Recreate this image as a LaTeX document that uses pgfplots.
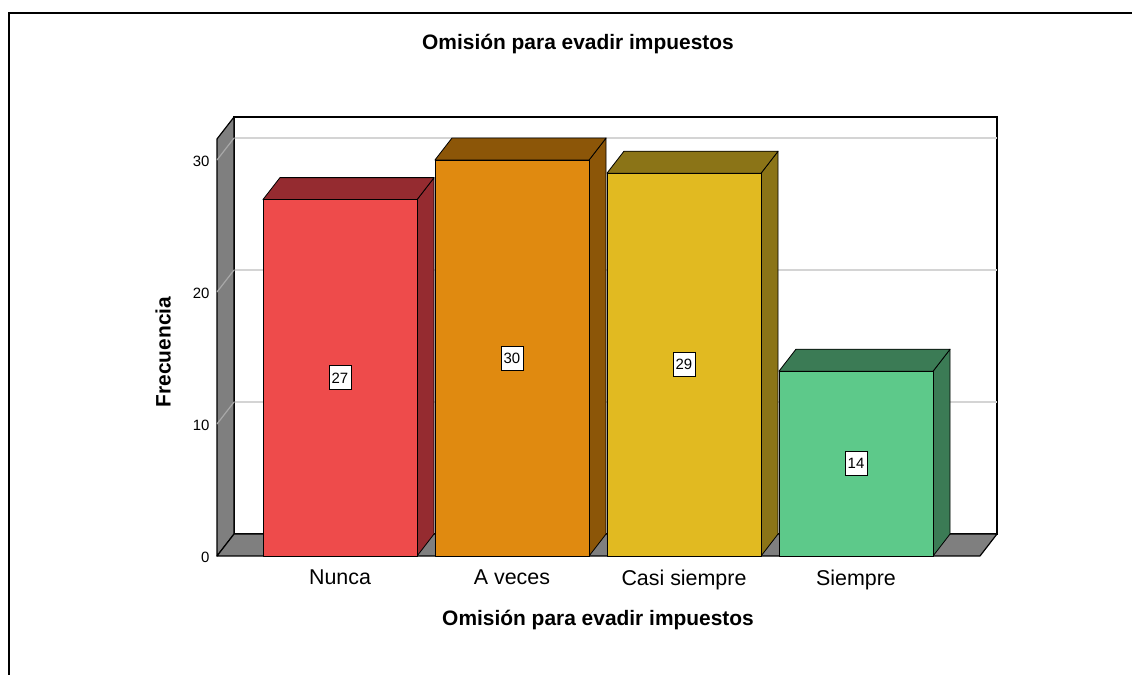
\documentclass[border=0pt]{standalone}
\usepackage{pgfplots}
\pgfplotsset{compat=1.18}
\usepackage{fontspec}
\setmainfont{Liberation Sans}

\definecolor{nuncaF}{HTML}{EE4B4B}
\definecolor{nuncaD}{HTML}{952B30}
\definecolor{avecesF}{HTML}{E08A10}
\definecolor{avecesD}{HTML}{8C5608}
\definecolor{casiF}{HTML}{E1BA21}
\definecolor{casiD}{HTML}{8B7417}
\definecolor{siempreF}{HTML}{5DC98A}
\definecolor{siempreD}{HTML}{3B7B55}
\definecolor{wallG}{HTML}{7F7F7F}
\definecolor{gridG}{HTML}{D4D4D4}
\definecolor{wallGrid}{HTML}{A8A8A8}

\begin{document}
\begin{tikzpicture}
\useasboundingbox (0,0) rectangle (1132bp,675bp);
\fill[white] (0,0) rectangle (1132bp,675bp);
\draw[line width=1.6bp] (8.8bp,-2bp) -- (8.8bp,661.8bp) -- (1136bp,661.8bp);
\node[font=\fontsize{21}{25}\selectfont\bfseries, anchor=center] at (578bp,631bp) {Omisión para evadir impuestos};
\begin{axis}[
  at={(217bp,119bp)}, anchor=south west,
  scale only axis, width=780bp, height=439bp,
  xmin=0.2849, xmax=4.8198, ymin=0, ymax=33.26,
  axis line style={draw=none}, tick style={draw=none},
  major tick length=0pt,
  clip=false,
  xtick={1,2,3,4},
  xticklabels={Nunca,A veces,Casi siempre,Siempre},
  xticklabel style={font=\fontsize{21.5}{24}\selectfont, yshift=-10bp},
  ytick={0,10,20,30},
  /pgf/number format/assume math mode=true,
  yticklabel style={font=\fontsize{15}{17}\selectfont, xshift=-4bp, yshift=-1bp},
  xlabel={Omisión para evadir impuestos},
  xlabel style={at={(rel axis cs:0.4885,-0.1458)}, anchor=center, font=\fontsize{21}{25}\selectfont\bfseries},
  ylabel={Frecuencia},
  ylabel style={at={(rel axis cs:-0.0692,0.4647)}, anchor=center, font=\fontsize{21}{25}\selectfont\bfseries},
]
% back wall
\addplot[fill=white, draw=black, line width=1.2bp] coordinates {(0.384,1.667) (4.8198,1.667) (4.8198,33.26) (0.384,33.26)} -- cycle;
% back wall grid lines
\addplot[gridG, line width=1.8bp] coordinates {(0.384,11.667) (4.8198,11.667)};
\addplot[gridG, line width=1.8bp] coordinates {(0.384,21.667) (4.8198,21.667)};
\addplot[gridG, line width=1.8bp] coordinates {(0.384,31.667) (4.8198,31.667)};
% left wall
\addplot[fill=wallG, draw=black, line width=1.2bp, line join=round] coordinates {(0.2849,0) (0.384,1.667) (0.384,33.26) (0.2849,31.593)} -- cycle;
\addplot[wallGrid, line width=1.2bp] coordinates {(0.2849,10) (0.384,11.667)};
\addplot[wallGrid, line width=1.2bp] coordinates {(0.2849,20) (0.384,21.667)};
\addplot[wallGrid, line width=1.2bp] coordinates {(0.2849,30) (0.384,31.667)};
% floor
\addplot[fill=wallG, draw=black, line width=1.2bp, line join=round] coordinates {(0.2849,0) (4.7208,0) (4.8198,1.667) (0.384,1.667)} -- cycle;

% Bar 1: Nunca = 27
\addplot[fill=nuncaD, draw=black, line width=0.8bp, line join=round] coordinates {(1.448,0) (1.547,1.667) (1.547,28.667) (1.448,27)} -- cycle;
\addplot[fill=nuncaD, draw=black, line width=0.8bp, line join=round] coordinates {(0.552,27) (1.448,27) (1.547,28.667) (0.651,28.667)} -- cycle;
\addplot[fill=nuncaF, draw=black, line width=0.8bp, line join=round] coordinates {(0.552,0) (1.448,0) (1.448,27) (0.552,27)} -- cycle;
% Bar 2: A veces = 30
\addplot[fill=avecesD, draw=black, line width=0.8bp, line join=round] coordinates {(2.448,0) (2.547,1.667) (2.547,31.667) (2.448,30)} -- cycle;
\addplot[fill=avecesD, draw=black, line width=0.8bp, line join=round] coordinates {(1.552,30) (2.448,30) (2.547,31.667) (1.651,31.667)} -- cycle;
\addplot[fill=avecesF, draw=black, line width=0.8bp, line join=round] coordinates {(1.552,0) (2.448,0) (2.448,30) (1.552,30)} -- cycle;
% Bar 3: Casi siempre = 29
\addplot[fill=casiD, draw=black, line width=0.8bp, line join=round] coordinates {(3.448,0) (3.547,1.667) (3.547,30.667) (3.448,29)} -- cycle;
\addplot[fill=casiD, draw=black, line width=0.8bp, line join=round] coordinates {(2.552,29) (3.448,29) (3.547,30.667) (2.651,30.667)} -- cycle;
\addplot[fill=casiF, draw=black, line width=0.8bp, line join=round] coordinates {(2.552,0) (3.448,0) (3.448,29) (2.552,29)} -- cycle;
% Bar 4: Siempre = 14
\addplot[fill=siempreD, draw=black, line width=0.8bp, line join=round] coordinates {(4.448,0) (4.547,1.667) (4.547,15.667) (4.448,14)} -- cycle;
\addplot[fill=siempreD, draw=black, line width=0.8bp, line join=round] coordinates {(3.552,14) (4.448,14) (4.547,15.667) (3.651,15.667)} -- cycle;
\addplot[fill=siempreF, draw=black, line width=0.8bp, line join=round] coordinates {(3.552,0) (4.448,0) (4.448,14) (3.552,14)} -- cycle;

% value labels at mid-height
\addplot[draw=none, mark=none, nodes near coords, point meta=explicit symbolic,
  nodes near coords align={center},
  every node near coord/.style={anchor=center, fill=white, draw=black, line width=0.8bp,
    font=\fontsize{15}{17}\selectfont, inner sep=0pt, minimum width=22bp, minimum height=24bp}]
  coordinates {(1,13.5)[27] (2,15)[30] (3,14.5)[29] (4,7)[14]};
\end{axis}
\end{tikzpicture}
\end{document}
